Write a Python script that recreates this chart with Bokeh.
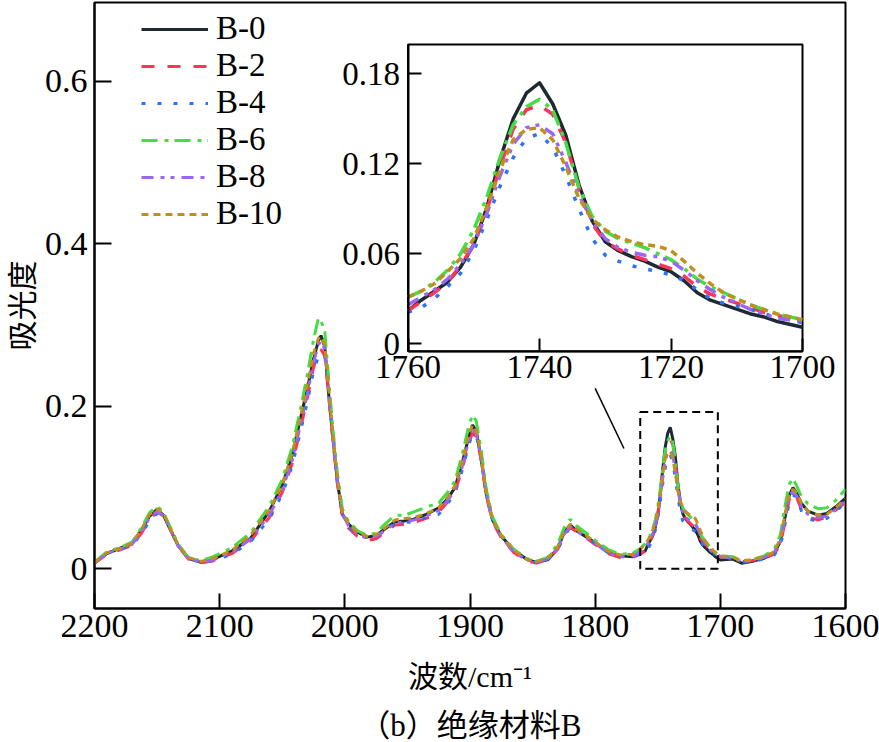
import math
from bokeh.plotting import figure
from bokeh.layouts import column
from bokeh.core.properties import value
from bokeh.models import (Range1d, LinearAxis, FixedTicker, CustomJSTickFormatter,
                          Legend, LegendItem, BoxAnnotation)
from bokeh.embed import file_html
from bokeh.resources import INLINE

# ---------------- data ----------------
wavenumber = [
    2200, 2190, 2180, 2170, 2162, 2156, 2150, 2145, 2140, 2133, 2125, 2115, 2105, 2090, 2075, 2060,
    2050, 2042, 2035, 2030, 2025, 2021, 2019, 2016, 2013, 2010, 2006, 2002, 1997, 1990, 1982, 1975,
    1968, 1960, 1952, 1945, 1935, 1925, 1918, 1912, 1906, 1901, 1898, 1895, 1891, 1887, 1882, 1875,
    1865, 1855, 1847, 1838, 1830, 1825, 1820, 1815, 1808, 1800, 1790, 1780, 1770, 1764,
    1760, 1758, 1756, 1754, 1752, 1750, 1748, 1746, 1744, 1742, 1740, 1738, 1736, 1734, 1732, 1730,
    1728, 1726, 1724, 1722, 1720, 1718, 1716, 1714, 1712, 1710, 1708, 1706, 1704, 1702, 1700,
    1690, 1683, 1675, 1665, 1657, 1652, 1648, 1645, 1642, 1639, 1635, 1630, 1622, 1615, 1608, 1600,
]

b0 = [
    0.007, 0.019, 0.025, 0.031, 0.049, 0.065, 0.073, 0.066, 0.050, 0.028, 0.013, 0.008, 0.012, 0.022, 0.038, 0.072,
    0.103, 0.140, 0.188, 0.221, 0.258, 0.281, 0.287, 0.273, 0.216, 0.168, 0.108, 0.067, 0.055, 0.045, 0.039, 0.041,
    0.049, 0.058, 0.059, 0.061, 0.067, 0.075, 0.086, 0.100, 0.132, 0.162, 0.177, 0.170, 0.134, 0.092, 0.060, 0.040,
    0.023, 0.012, 0.008, 0.011, 0.025, 0.044, 0.054, 0.047, 0.040, 0.032, 0.021, 0.016, 0.015, 0.019,
    0.022, 0.029, 0.035, 0.041, 0.051, 0.066, 0.091, 0.123, 0.150, 0.167, 0.174, 0.160, 0.139, 0.106, 0.082, 0.068,
    0.062, 0.058, 0.055, 0.051, 0.048, 0.042, 0.034, 0.029, 0.026, 0.023, 0.020, 0.018, 0.015, 0.013, 0.011,
    0.012, 0.007, 0.009, 0.013, 0.019, 0.034, 0.066, 0.090, 0.100, 0.093, 0.080, 0.071, 0.066, 0.068, 0.076, 0.087,
]
b2 = [
    0.007, 0.018, 0.023, 0.029, 0.045, 0.061, 0.070, 0.065, 0.050, 0.028, 0.012, 0.007, 0.010, 0.019, 0.035, 0.064,
    0.094, 0.130, 0.175, 0.210, 0.248, 0.266, 0.270, 0.262, 0.215, 0.165, 0.105, 0.065, 0.050, 0.040, 0.035, 0.037,
    0.045, 0.054, 0.055, 0.057, 0.062, 0.070, 0.082, 0.095, 0.124, 0.155, 0.167, 0.163, 0.133, 0.090, 0.058, 0.038,
    0.020, 0.010, 0.007, 0.011, 0.024, 0.041, 0.051, 0.046, 0.039, 0.030, 0.019, 0.014, 0.014, 0.018,
    0.022, 0.028, 0.034, 0.041, 0.052, 0.066, 0.089, 0.118, 0.143, 0.156, 0.159, 0.153, 0.134, 0.104, 0.080, 0.068,
    0.063, 0.059, 0.056, 0.053, 0.050, 0.045, 0.038, 0.033, 0.030, 0.027, 0.024, 0.021, 0.019, 0.017, 0.015,
    0.014, 0.009, 0.010, 0.013, 0.018, 0.030, 0.060, 0.085, 0.094, 0.088, 0.072, 0.064, 0.060, 0.064, 0.072, 0.082,
]
b4 = [
    0.007, 0.019, 0.024, 0.029, 0.044, 0.059, 0.068, 0.066, 0.052, 0.029, 0.013, 0.008, 0.010, 0.018, 0.034, 0.062,
    0.092, 0.127, 0.172, 0.205, 0.243, 0.262, 0.266, 0.263, 0.222, 0.170, 0.110, 0.068, 0.052, 0.042, 0.038, 0.040,
    0.046, 0.055, 0.057, 0.058, 0.063, 0.067, 0.080, 0.093, 0.122, 0.153, 0.165, 0.164, 0.137, 0.094, 0.061, 0.039,
    0.021, 0.011, 0.008, 0.011, 0.023, 0.040, 0.051, 0.047, 0.040, 0.031, 0.020, 0.015, 0.015, 0.018,
    0.021, 0.024, 0.030, 0.038, 0.047, 0.062, 0.083, 0.105, 0.124, 0.137, 0.140, 0.131, 0.112, 0.090, 0.070, 0.059,
    0.055, 0.052, 0.050, 0.048, 0.046, 0.042, 0.036, 0.030, 0.027, 0.025, 0.023, 0.020, 0.018, 0.016, 0.014,
    0.013, 0.008, 0.009, 0.012, 0.017, 0.028, 0.057, 0.082, 0.091, 0.088, 0.070, 0.062, 0.058, 0.062, 0.070, 0.082,
]
b6 = [
    0.008, 0.021, 0.026, 0.033, 0.052, 0.069, 0.077, 0.070, 0.053, 0.030, 0.014, 0.010, 0.015, 0.026, 0.045, 0.078,
    0.110, 0.150, 0.200, 0.238, 0.282, 0.309, 0.305, 0.292, 0.235, 0.180, 0.118, 0.074, 0.058, 0.047, 0.041, 0.044,
    0.055, 0.066, 0.066, 0.070, 0.076, 0.081, 0.094, 0.108, 0.142, 0.176, 0.189, 0.182, 0.145, 0.098, 0.064, 0.042,
    0.024, 0.013, 0.009, 0.014, 0.030, 0.050, 0.061, 0.053, 0.045, 0.035, 0.024, 0.018, 0.019, 0.025,
    0.031, 0.035, 0.041, 0.049, 0.060, 0.076, 0.098, 0.124, 0.146, 0.158, 0.163, 0.156, 0.134, 0.104, 0.085, 0.075,
    0.070, 0.067, 0.064, 0.060, 0.056, 0.050, 0.043, 0.038, 0.034, 0.030, 0.026, 0.023, 0.020, 0.018, 0.016,
    0.015, 0.010, 0.011, 0.016, 0.024, 0.042, 0.080, 0.104, 0.111, 0.102, 0.088, 0.080, 0.074, 0.075, 0.084, 0.098,
]
b8 = [
    0.007, 0.019, 0.024, 0.030, 0.047, 0.063, 0.071, 0.066, 0.050, 0.028, 0.013, 0.008, 0.011, 0.020, 0.037, 0.067,
    0.097, 0.134, 0.180, 0.215, 0.254, 0.276, 0.280, 0.270, 0.220, 0.168, 0.108, 0.068, 0.053, 0.043, 0.038, 0.040,
    0.047, 0.056, 0.058, 0.060, 0.065, 0.072, 0.084, 0.097, 0.127, 0.158, 0.171, 0.167, 0.135, 0.091, 0.059, 0.039,
    0.021, 0.011, 0.008, 0.012, 0.025, 0.042, 0.052, 0.047, 0.040, 0.031, 0.020, 0.015, 0.016, 0.021,
    0.026, 0.031, 0.036, 0.043, 0.053, 0.066, 0.087, 0.112, 0.133, 0.144, 0.146, 0.140, 0.121, 0.099, 0.082, 0.070,
    0.064, 0.061, 0.059, 0.058, 0.055, 0.049, 0.042, 0.036, 0.031, 0.027, 0.023, 0.020, 0.017, 0.016, 0.015,
    0.013, 0.009, 0.010, 0.014, 0.020, 0.034, 0.066, 0.089, 0.096, 0.090, 0.076, 0.067, 0.063, 0.065, 0.073, 0.084,
]
b10 = [
    0.008, 0.020, 0.025, 0.032, 0.050, 0.067, 0.074, 0.068, 0.052, 0.029, 0.014, 0.009, 0.013, 0.023, 0.042, 0.073,
    0.104, 0.142, 0.190, 0.226, 0.265, 0.284, 0.286, 0.275, 0.225, 0.172, 0.112, 0.070, 0.056, 0.045, 0.040, 0.042,
    0.050, 0.060, 0.062, 0.063, 0.068, 0.075, 0.088, 0.102, 0.133, 0.165, 0.177, 0.171, 0.138, 0.094, 0.061, 0.041,
    0.023, 0.012, 0.009, 0.013, 0.027, 0.045, 0.055, 0.049, 0.042, 0.033, 0.022, 0.017, 0.018, 0.024,
    0.031, 0.035, 0.040, 0.048, 0.057, 0.070, 0.091, 0.116, 0.136, 0.143, 0.144, 0.136, 0.118, 0.097, 0.083, 0.076,
    0.071, 0.068, 0.066, 0.065, 0.062, 0.055, 0.047, 0.040, 0.034, 0.030, 0.026, 0.023, 0.020, 0.018, 0.016,
    0.014, 0.010, 0.011, 0.015, 0.021, 0.037, 0.070, 0.092, 0.098, 0.093, 0.080, 0.071, 0.066, 0.067, 0.075, 0.086,
]

series_names = ["B-0", "B-2", "B-4", "B-6", "B-8", "B-10"]
series_values = [b0, b2, b4, b6, b8, b10]
for s in series_values:
    assert len(s) == len(wavenumber), len(s)

main_xticks = [2200, 2100, 2000, 1900, 1800, 1700, 1600]
main_yticks = [0, 0.2, 0.4, 0.6]
inset_xticks = [1760, 1740, 1720, 1700]
inset_yticks = [0, 0.06, 0.12, 0.18]

x_label = "波数/cm⁻¹"
y_label = "吸光度"
caption = "（b）绝缘材料B"

inset_x_limits = (1760, 1700)
inset_y_limits = (-0.005, 0.1995)
zoom_box = dict(left=1702, right=1764, bottom=0.0, top=0.193)
connector = dict(x0=1800, y0=0.222, x1=1777, y1=0.148)

# ---------------- style ----------------
colors = ["#1e2a32", "#ff3355", "#2f73f0", "#44dd44", "#9a66f5", "#c0901c"]
dashes = ["solid", "13 13", "4 12", "16 7 4 6", "12 7 4 6 4 7", "7 5"]
SERIF = "Liberation Serif"
MIXED = "'Liberation Serif', 'Noto Sans CJK SC'"

W = 879
H_MAIN, H_CAP = 704, 38
FL, FR, FT, FB = 94, 845, 2, 608          # main frame (pixels)
IL, IR, IT, IB = 407.5, 802, 44, 350.7     # inset frame (pixels)
X0, X1 = 2200, 1600
Y0, Y1 = -0.0488, 0.6968

p = figure(width=W, height=H_MAIN, x_range=Range1d(X0, X1), y_range=Range1d(Y0, Y1),
           output_backend="svg", toolbar_location=None,
           min_border_left=FL, min_border_right=W - FR,
           min_border_top=FT, min_border_bottom=H_MAIN - FB)
p.background_fill_color = "white"
p.border_fill_color = "white"
p.outline_line_color = "black"
p.outline_line_width = 2
p.xgrid.visible = False
p.ygrid.visible = False

xa = p.below[0]
ya = p.left[0]
for ax in (xa, ya):
    ax.axis_line_width = 2
    ax.axis_line_color = "black"
    ax.major_tick_line_width = 2
    ax.major_tick_out = 0
    ax.minor_tick_line_color = None
    ax.major_label_text_font = SERIF
    ax.major_label_text_font_size = "34px"
    ax.major_label_text_color = "black"
    ax.axis_label_text_font_style = "normal"
    ax.axis_label_text_color = "black"
    ax.axis_label_text_font_size = "30px"
    ax.axis_label_text_font = MIXED
xa.ticker = FixedTicker(ticks=main_xticks)
xa.major_tick_in = 15
xa.major_label_standoff = 6
xa.axis_label = x_label
xa.axis_label_standoff = 20
ya.ticker = FixedTicker(ticks=main_yticks)
ya.major_tick_in = 17
ya.major_label_standoff = 7
ya.formatter = CustomJSTickFormatter(code="return tick == 0 ? '0' : tick.toFixed(1);")
ya.axis_label = y_label
ya.axis_label_standoff = 3

# inset ranges mapped onto the inset rectangle inside the main frame
sx = (IR - IL) / (inset_x_limits[0] - inset_x_limits[1])
sy = (IB - IT) / (inset_y_limits[1] - inset_y_limits[0])
p.extra_x_ranges = {"ix": Range1d(inset_x_limits[0] + (IL - FL) / sx,
                                  inset_x_limits[1] - (FR - IR) / sx)}
p.extra_y_ranges = {"iy": Range1d(inset_y_limits[0] - (FB - IB) / sy,
                                  inset_y_limits[1] + (IT - FT) / sy)}

# main curves
renderers = []
for name, vals, c, d in zip(series_names, series_values, colors, dashes):
    r = p.line(wavenumber, vals, line_color=c, line_width=3, line_dash=d)
    renderers.append(r)

# zoom box and connector
p.add_layout(BoxAnnotation(left=zoom_box["left"], right=zoom_box["right"],
                           bottom=zoom_box["bottom"], top=zoom_box["top"],
                           fill_alpha=0, line_color="black", line_alpha=1,
                           line_width=2, line_dash="8 5"))
p.segment(x0=[connector["x0"]], y0=[connector["y0"]], x1=[connector["x1"]], y1=[connector["y1"]],
          line_color="black", line_width=1.5)

# inset background box
p.add_layout(BoxAnnotation(left=inset_x_limits[1], right=inset_x_limits[0],
                           bottom=inset_y_limits[0], top=inset_y_limits[1],
                           x_range_name="ix", y_range_name="iy", level="underlay",
                           fill_color="white", fill_alpha=1, line_color="black",
                           line_alpha=1, line_width=2))

# inset curves
idx = [i for i, w in enumerate(wavenumber) if inset_x_limits[1] <= w <= inset_x_limits[0]]
for vals, c, d in zip(series_values, colors, dashes):
    p.line([wavenumber[i] for i in idx], [vals[i] for i in idx], line_color=c, line_width=3.5,
           line_dash=d, line_join="round", x_range_name="ix", y_range_name="iy")

# inset axes
iax = LinearAxis(x_range_name="ix", y_range_name="iy", fixed_location=inset_y_limits[0],
                 bounds=(inset_x_limits[1], inset_x_limits[0]),
                 ticker=FixedTicker(ticks=inset_xticks))
iay = LinearAxis(x_range_name="ix", y_range_name="iy", fixed_location=inset_x_limits[0],
                 bounds=(inset_y_limits[0], inset_y_limits[1]),
                 ticker=FixedTicker(ticks=inset_yticks),
                 formatter=CustomJSTickFormatter(code="return tick == 0 ? '0' : tick.toFixed(2);"))
for ax in (iax, iay):
    ax.axis_line_width = 2
    ax.major_tick_line_width = 2
    ax.major_tick_in = 13
    ax.major_tick_out = 0
    ax.minor_tick_line_color = None
    ax.major_label_text_font = SERIF
    ax.major_label_text_font_size = "33px"
    ax.major_label_text_color = "black"
iax.major_label_standoff = 5
iay.major_label_standoff = 8
p.add_layout(iax, "below")
p.add_layout(iay, "left")

# legend
legend = Legend(items=[LegendItem(label=n, renderers=[r]) for n, r in zip(series_names, renderers)],
                location=(47, 376), orientation="vertical",
                glyph_width=67, glyph_height=36, label_height=36, label_standoff=8,
                spacing=0, padding=0, margin=0,
                border_line_alpha=0, background_fill_alpha=0,
                label_text_font=SERIF, label_text_font_size="33px", label_text_color="black")
p.add_layout(legend)

# caption strip below the chart (no axes, frame = whole strip)
cap = figure(width=W, height=H_CAP, x_range=Range1d(0, W), y_range=Range1d(0, H_CAP),
             x_axis_type=None, y_axis_type=None,
             output_backend="svg", toolbar_location=None, min_border=0)
cap.grid.visible = False
cap.outline_line_color = None
cap.background_fill_color = "white"
cap.border_fill_color = "white"
cap.text(x=[440], y=[17], text=[caption], text_align="center", text_baseline="middle",
         text_font=value(MIXED), text_font_size="31px", text_color="black")

open("out.html", "w").write(file_html(column(p, cap, spacing=0), INLINE))
